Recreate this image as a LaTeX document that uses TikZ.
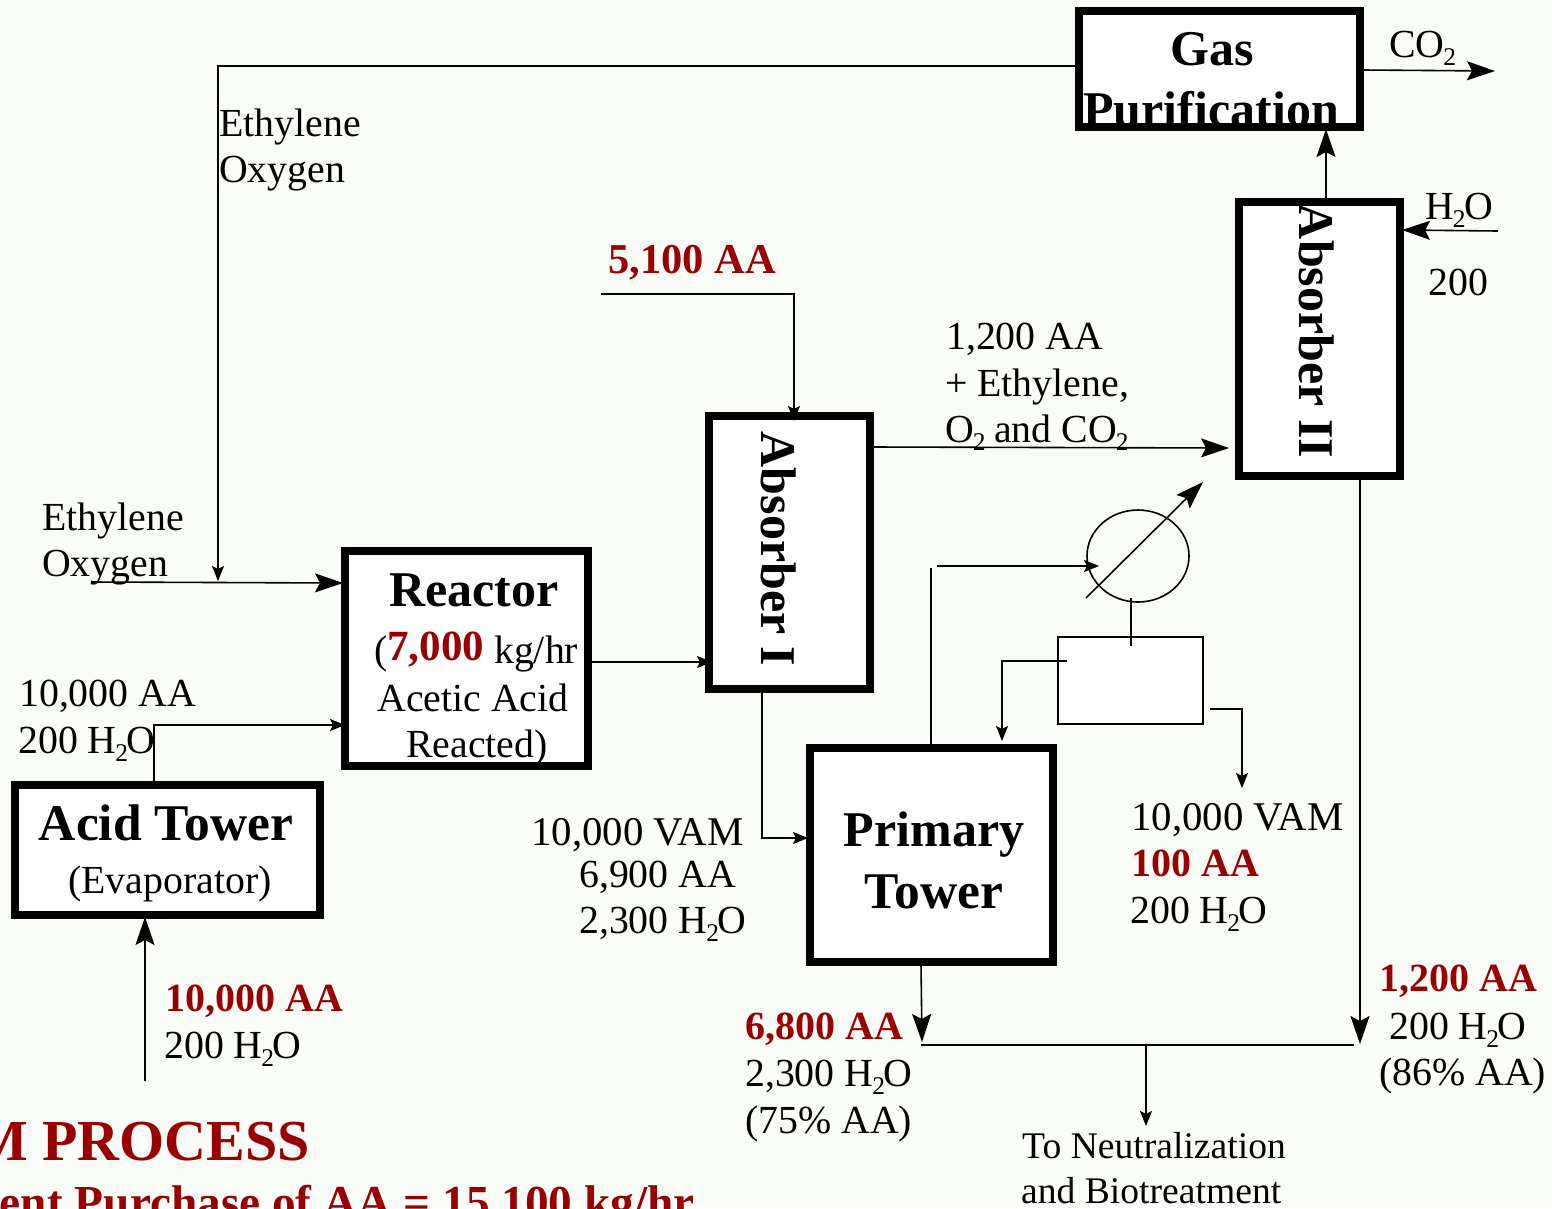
\documentclass[tikz,border=0pt]{standalone}
\usepackage{fontspec}
\setmainfont{Liberation Serif}
\usetikzlibrary{arrows.meta}
\definecolor{bg}{RGB}{250,252,248}
\definecolor{red1}{RGB}{153,0,0}
\newcommand{\sub}[1]{\raisebox{-0.22em}{\kern-0.03em\scalebox{0.64}{#1}\kern-0.03em}}
\tikzset{x=1pt,y=-1pt,
 blk/.style={draw=black,line width=7.5pt},
 thin box/.style={draw=black,line width=1.6pt,fill=white},
 line/.style={draw=black,line width=1.6pt},
 arr/.style={line,-{Stealth[length=28pt,width=19pt,inset=5pt]}},
 arrs/.style={line,-{Stealth[length=15pt,width=12pt,inset=3pt]}},
 lbl/.style={inner sep=0pt,anchor=base west,yshift=-1pt,font=\fontsize{39.8}{40}\selectfont},
 rlbl/.style={lbl,text=red1,font=\fontsize{40}{40}\selectfont\bfseries},
 head/.style={inner sep=0pt,anchor=base,font=\fontsize{50}{50}\selectfont\bfseries},
 bighead/.style={inner sep=0pt,anchor=base,font=\fontsize{51.5}{50}\selectfont\bfseries},
}
\begin{document}
\begin{tikzpicture}
\useasboundingbox (0,0) rectangle (1552,1208);
\fill[bg] (0,0) rectangle (1552,1208);
% box interiors
\fill[white] (1079,11) rectangle (1360,127);
\fill[white] (1239,202) rectangle (1400,476);
\fill[white] (709,416) rectangle (870,689);
\fill[white] (345,551) rectangle (588,766);
\fill[white] (810,748) rectangle (1053,962);
\fill[white] (15,785) rectangle (320,915);
\draw[thin box] (1058,637) rectangle (1203,724);
\coordinate (gp) at (1077,66);
\node[head] (n1) at (1212,65) {Gas};
\node[head] (n2) at (1211,126) {Purification};
\node[head,rotate=-90] (ab2) at (1299,331) {Absorber II};
\node[head,rotate=-90] (ab1) at (761,549) {Absorber I};
\node[head] (re) at (474,606) {Reactor};
\node[lbl] (r2) at (374,662) {(\raisebox{3pt}{\textcolor{red1}{\fontsize{43}{43}\selectfont\textbf{7,000}}} kg/hr};
\node[lbl,anchor=base] (r3) at (473,710) {Acetic Acid};
\node[lbl,anchor=base] (r4) at (477,756) {Reacted)};
\node[head] (pt1) at (934,846) {Primary};
\node[bighead] (pt2) at (934,908) {Tower};
\node[bighead] (at) at (166,840) {Acid Tower};
\node[lbl,anchor=base] (ev) at (170,892) {(Evaporator)};
% box outlines above their texts, as in the reference
\draw[blk] (1079,11) rectangle (1360,127);
\draw[blk] (1239,202) rectangle (1400,476);
\draw[blk] (709,416) rectangle (870,689);
\draw[blk] (345,551) rectangle (588,766);
\draw[blk] (810,748) rectangle (1053,962);
\draw[blk] (15,785) rectangle (320,915);
% labels
\node[lbl] (l1) at (1389,56) {CO\sub{2}};
\node[lbl] (l2) at (219,135) {Ethylene};
\node[lbl] (l3) at (219,181) {Oxygen};
\node[rlbl,font=\fontsize{42.5}{42}\selectfont\bfseries] (l4) at (608,272) {5,100 AA};
\node[lbl] (l5) at (1425,218) {H\sub{2}O};
\node[lbl] (l6) at (1428,294) {200};
\node[lbl] (l7) at (946,348) {1,200 AA};
\node[lbl] (l8) at (945,395) {+ Ethylene,};
\node[lbl] (l9) at (945,441) {O\sub{2} and CO\sub{2}};
\node[lbl] (l10) at (42,529) {Ethylene};
\node[lbl] (l11) at (42,575) {Oxygen};
\node[lbl] (l12) at (19,705) {10,000 AA};
\node[lbl] (l13) at (18,752) {200 H\sub{2}O};
\node[lbl,font=\fontsize{40.8}{40}\selectfont] (l14) at (531,844) {10,000 VAM};
\node[lbl] (l15) at (579,886) {6,900 AA};
\node[lbl] (l16) at (579,932) {2,300 H\sub{2}O};
\node[lbl,font=\fontsize{40.8}{40}\selectfont] (l17) at (1131,829) {10,000 VAM};
\node[rlbl] (l18) at (1131,875) {100 AA};
\node[lbl] (l19) at (1130,922) {200 H\sub{2}O};
\node[rlbl] (l20) at (165,1010) {10,000 AA};
\node[lbl] (l21) at (164,1057) {200 H\sub{2}O};
\node[rlbl] (l22) at (745,1038) {6,800 AA};
\node[lbl] (l23) at (745,1085) {2,300 H\sub{2}O};
\node[lbl] (l24) at (745,1132) {(75\% AA)};
\node[rlbl] (l25) at (1379,990) {1,200 AA};
\node[lbl] (l26) at (1389,1038) {200 H\sub{2}O};
\node[lbl] (l27) at (1379,1084) {(86\% AA)};
\node[lbl,font=\fontsize{37.6}{40}\selectfont] (l28) at (1022,1157) {To Neutralization};
\node[lbl,font=\fontsize{37.6}{40}\selectfont] (l29) at (1021,1202) {and Biotreatment};
\node[rlbl,anchor=base east,yshift=1pt,font=\fontsize{58}{58}\selectfont\bfseries] (t1) at (310,1160) {M PROCESS};
\node[rlbl,anchor=base east,yshift=1pt,font=\fontsize{47.3}{47}\selectfont\bfseries] (t2) at (695,1218) {ent Purchase of AA = 15,100 kg/hr};
% connectors
\coordinate (a) at (218,66);
\coordinate (a2) at (218,581);
\draw[arrs] (gp) -- (a) -- (a2);
\coordinate (o1) at (1363,70);\coordinate (o2) at (1495,71);
\draw[arr] (o1) -- (o2);
\coordinate (b1) at (1326,199);\coordinate (b2) at (1326,129);
\draw[arr] (b1) -- (b2);
\coordinate (c1) at (1498,231);\coordinate (c2) at (1402,230);
\draw[arr] (c1) -- (c2);
\coordinate (d1) at (601,294);\coordinate (d2) at (794,421);
\draw[arrs] (d1) -| (d2);
\coordinate (e1) at (872,447);\coordinate (e2) at (1229,448);
\draw[arr] (e1) -- (e2);
\coordinate (f1) at (92,582);\coordinate (f2) at (343,583);
\draw[arr] (f1) -- (f2);
\coordinate (g1) at (154,783);\coordinate (g2) at (154,725);\coordinate (g3) at (345,725);
\draw[arrs] (g1) -- (g2) -- (g3);
\coordinate (h1) at (590,662);\coordinate (h2) at (712,662);
\draw[arrs] (h1) -- (h2);
\coordinate (i1) at (762,691);\coordinate (i2) at (762,838);\coordinate (i3) at (808,838);
\draw[arrs] (i1) -- (i2) -- (i3);
\coordinate (j1) at (145,1081);\coordinate (j2) at (145,917);
\draw[arr] (j1) -- (j2);
\coordinate (k1) at (931,746);\coordinate (k2) at (931,568);
\draw[line] (k1) -- (k2);
\coordinate (k3) at (937,566);\coordinate (k4) at (1099,566);
\draw[arrs] (k3) -- (k4);
\draw[line] (1138,556) ellipse (51 and 46);
\coordinate (m1) at (1086,598);\coordinate (m2) at (1203,482);
\draw[arr] (m1) -- (m2);
\coordinate (p1) at (1131,598);\coordinate (p2) at (1131,646);
\draw[line] (p1) -- (p2);
\coordinate (q1) at (1067,661);\coordinate (q2) at (1002,661);\coordinate (q3) at (1002,741);
\draw[arrs] (q1) -- (q2) -- (q3);
\coordinate (r1) at (1210,709);\coordinate (r2) at (1242,709);\coordinate (r3) at (1242,788);
\draw[arrs] (r1) -- (r2) -- (r3);
\coordinate (s1) at (921,964);\coordinate (s2) at (922,1042);
\draw[arr] (s1) -- (s2);
\coordinate (t3) at (1360,478);\coordinate (t4) at (1360,1044);
\draw[arr] (t3) -- (t4);
\coordinate (u1) at (921,1045);\coordinate (u2) at (1354,1045);
\draw[line] (u1) -- (u2);
\coordinate (v1) at (1146,1045);\coordinate (v2) at (1146,1126);
\draw[arrs] (v1) -- (v2);
\end{tikzpicture}
\end{document}
